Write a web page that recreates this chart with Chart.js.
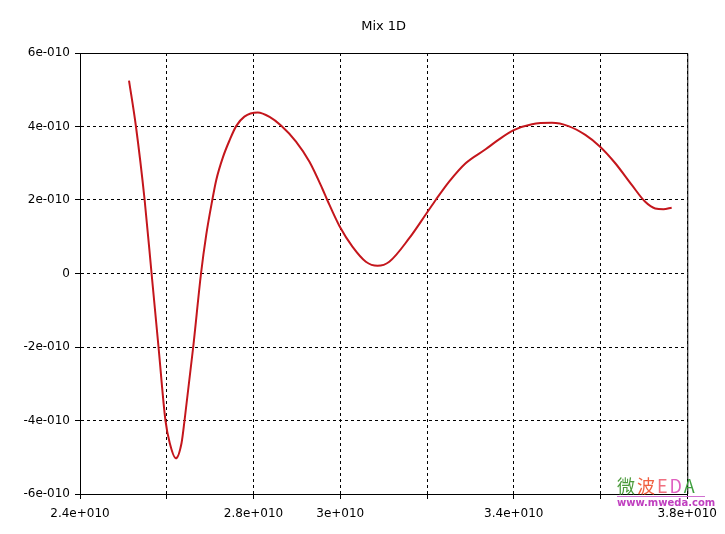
<!DOCTYPE html>
<html>
<head>
<meta charset="utf-8">
<script src="https://cdn.jsdelivr.net/npm/chart.js@4"></script>
<style>
  body { margin: 0; background: #fff; }
  #wrap { position: relative; width: 725px; height: 534px; }
  #mark { position: absolute; left: 617px; top: 475px; width: 88px; font-family: "Noto Sans CJK SC", sans-serif; }
  #mark .cn { font-size: 18px; line-height: 21px; letter-spacing: 2px; white-space: nowrap; }
  #mark .url { font-size: 10px; line-height: 11px; color: #c040c0; border-top: 1px solid #d070d0; font-family: "DejaVu Sans", sans-serif; font-weight: bold; }
</style>
</head>
<body>
<div id="wrap">
  <canvas id="myChart" width="725" height="534"></canvas>
  <div id="mark"><div class="cn"><span style="color:#4a9a3a">微</span><span style="color:#f06040">波</span><span style="color:#f07080">E</span><span style="color:#e060c0">D</span><span style="color:#40a040">A</span></div><div class="url">www.mweda.com</div></div>
</div>
<script>
// frequency (Hz) and response
const freqs = [2.513e10, 2.529e10, 2.549e10, 2.565e10, 2.581e10, 2.597e10, 2.607e10, 2.621e10, 2.634e10, 2.641e10,
  2.661e10, 2.679e10, 2.691e10, 2.705e10, 2.714e10, 2.730e10, 2.745e10, 2.760e10, 2.779e10, 2.810e10,
  2.837e10, 2.864e10, 2.898e10, 2.929e10, 2.959e10, 2.970e10, 2.999e10, 3.028e10, 3.059e10, 3.086e10,
  3.113e10, 3.159e10, 3.199e10, 3.220e10, 3.251e10, 3.289e10, 3.335e10, 3.366e10, 3.400e10, 3.442e10,
  3.488e10, 3.526e10, 3.565e10, 3.599e10, 3.634e10, 3.672e10, 3.703e10, 3.726e10, 3.745e10, 3.764e10];
const mix1d = [5.25e-10, 4.0e-10, 2.0e-10, 0, -2.0e-10, -4.0e-10, -4.62e-10, -5.03e-10, -4.62e-10, -4.0e-10,
  -2.0e-10, 0, 1.05e-10, 2.0e-10, 2.54e-10, 3.18e-10, 3.63e-10, 4.01e-10, 4.27e-10, 4.38e-10,
  4.26e-10, 4.02e-10, 3.59e-10, 3.04e-10, 2.30e-10, 2.0e-10, 1.27e-10, 0.73e-10, 0.32e-10, 0.21e-10,
  0.32e-10, 0.96e-10, 1.64e-10, 2.0e-10, 2.50e-10, 3.0e-10, 3.38e-10, 3.65e-10, 3.90e-10, 4.06e-10,
  4.10e-10, 4.01e-10, 3.77e-10, 3.45e-10, 3.00e-10, 2.41e-10, 1.95e-10, 1.77e-10, 1.75e-10, 1.79e-10];

const xTickValues = [2.4e10, 2.8e10, 3.0e10, 3.4e10, 3.8e10];
const xTickLabels = ['2.4e+010', '2.8e+010', '3e+010', '3.4e+010', '3.8e+010'];
const yTickValues = [-6e-10, -4e-10, -2e-10, 0, 2e-10, 4e-10, 6e-10];
const yTickLabels = ['-6e-010', '-4e-010', '-2e-010', '0', '2e-010', '4e-010', '6e-010'];
const chartTitle = 'Mix 1D';

function labelFor(v, values, labels, eps) {
  const i = values.findIndex(t => Math.abs(t - v) < eps);
  return i >= 0 ? labels[i] : '';
}

// solid frame on top and right, title centred over the plot area
const frame = {
  id: 'frame',
  afterDraw(chart) {
    const a = chart.chartArea, c = chart.ctx;
    c.save();
    c.strokeStyle = '#000';
    c.lineWidth = 1;
    c.beginPath();
    c.moveTo(a.left, a.top + 0.5);
    c.lineTo(a.right + 0.5, a.top + 0.5);
    c.lineTo(a.right + 0.5, a.bottom);
    c.stroke();
    c.fillStyle = '#000';
    c.font = '13px "DejaVu Sans", sans-serif';
    c.textAlign = 'center';
    c.textBaseline = 'middle';
    c.fillText(chartTitle, (a.left + a.right) / 2, 27);
    c.restore();
  }
};

Chart.defaults.font.family = '"DejaVu Sans", sans-serif';
Chart.defaults.font.size = 12;
Chart.defaults.color = '#000';

const ctx = document.getElementById('myChart');
new Chart(ctx, {
  type: 'line',
  data: {
    datasets: [{
      label: chartTitle,
      data: freqs.map((f, i) => ({ x: f, y: mix1d[i] })),
      borderColor: '#c4161c',
      borderWidth: 2,
      pointRadius: 0,
      cubicInterpolationMode: 'monotone',
      fill: false
    }]
  },
  options: {
    responsive: false,
    animation: false,
    layout: { padding: { left: 0, right: 37, top: 53, bottom: 0 } },
    plugins: {
      legend: { display: false },
      tooltip: { enabled: false },
      title: { display: false }
    },
    scales: {
      x: {
        type: 'linear',
        min: 2.4e10,
        max: 3.8e10,
        afterFit: s => { s.height = 40; },
        ticks: {
          stepSize: 0.2e10,
          autoSkip: false,
          maxRotation: 0,
          padding: 8,
          callback: v => labelFor(v, xTickValues, xTickLabels, 1e6)
        },
        grid: {
          color: '#000',
          tickLength: 5,
          tickColor: '#000',
          tickBorderDash: []
        },
        border: { color: '#000', width: 1, dash: [3, 3] }
      },
      y: {
        min: -6e-10,
        max: 6e-10,
        afterFit: s => { s.width = 80; },
        ticks: {
          stepSize: 2e-10,
          padding: 5,
          callback: v => labelFor(v, yTickValues, yTickLabels, 1e-13)
        },
        grid: {
          color: '#000',
          tickLength: 5,
          tickColor: '#000',
          tickBorderDash: []
        },
        border: { color: '#000', width: 1, dash: [3, 3] }
      }
    }
  },
  plugins: [frame]
});
</script>
</body>
</html>
